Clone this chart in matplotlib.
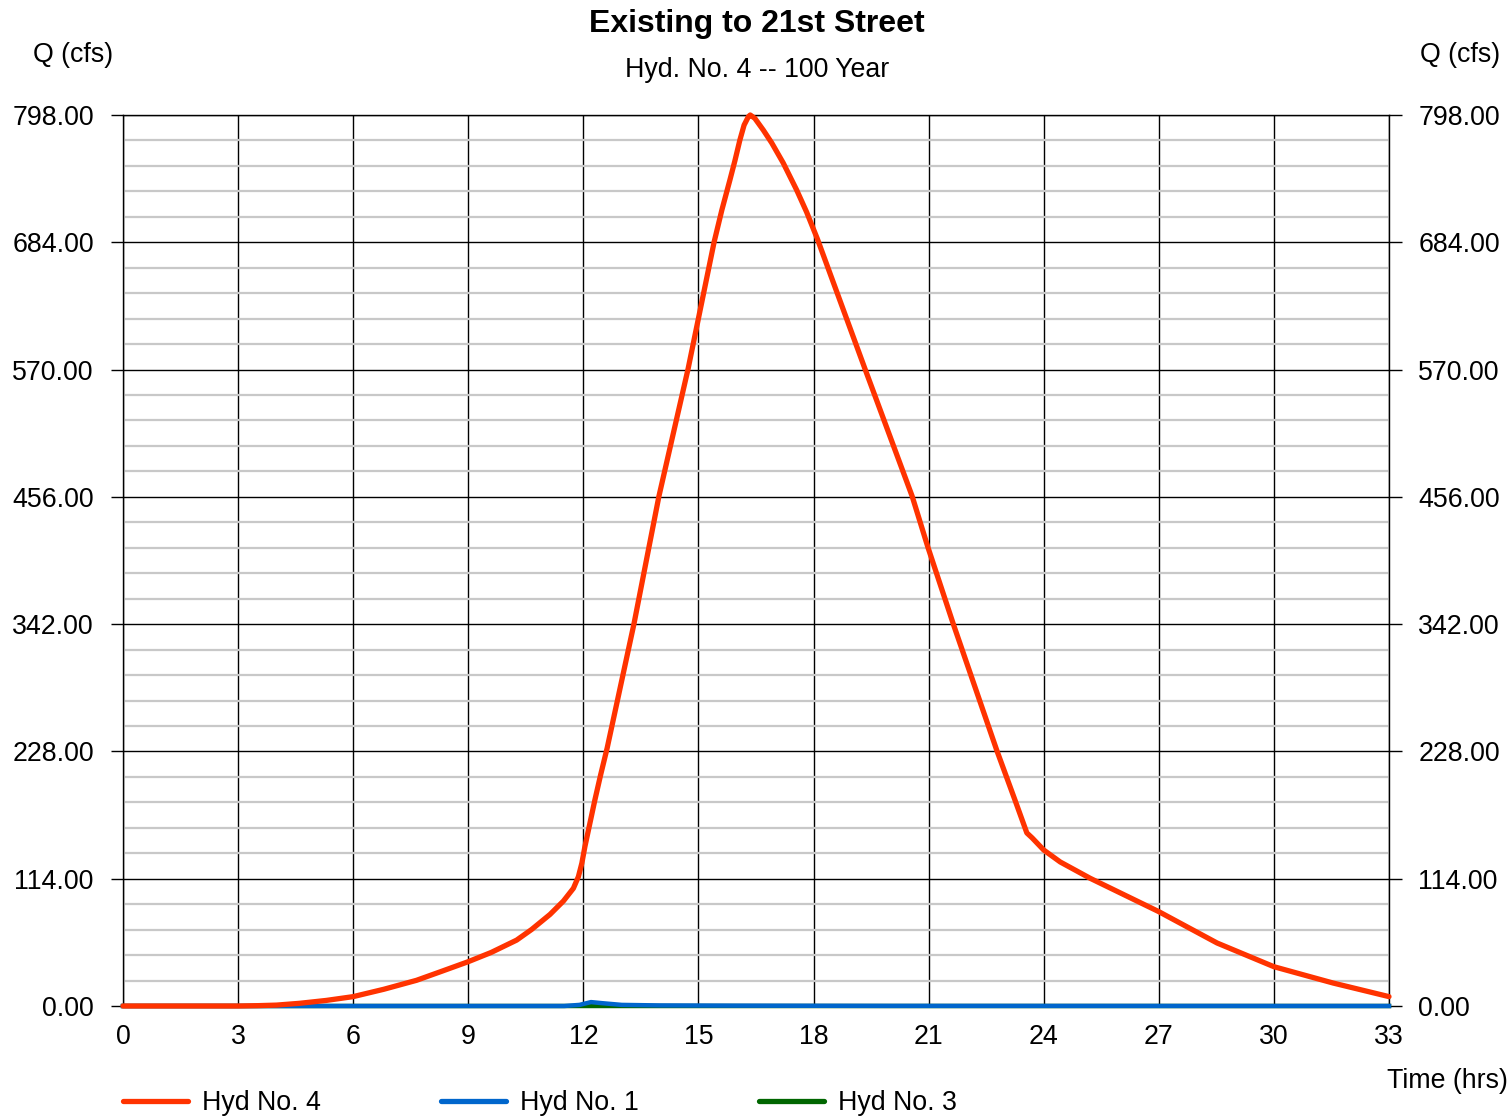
import matplotlib
matplotlib.use("Agg")
import matplotlib.pyplot as plt
from matplotlib.lines import Line2D
from matplotlib.ticker import MultipleLocator, FormatStrFormatter

plt.rcParams['font.family'] = ['Liberation Sans', 'DejaVu Sans']

# ---- data ----
hyd4_t = [0, 1, 2, 3, 3.5, 4, 4.6, 5.3, 6.0, 6.8, 7.65, 8.3, 9.0, 9.6, 10.26, 10.65,
          11.13, 11.48, 11.74, 11.87, 11.96, 12.04, 12.17, 12.3, 12.45, 12.62, 13.32,
          13.71, 13.97, 14.73, 15.41, 15.61, 15.82, 15.95, 16.08, 16.19, 16.30, 16.35,
          16.47, 16.69, 16.91, 17.21, 17.56, 17.82, 18.1, 19.34, 20.57, 20.98, 21.64,
          22.78, 23.25, 23.56, 23.7, 24.0, 24.43, 25.21, 27.0, 28.52, 30.0, 31.54, 33.0]
hyd4_q = [0, 0, 0, 0, 0.3, 0.8, 2.4, 5.0, 8.4, 15, 23, 31, 39.7, 48, 59, 68.5,
          82, 94, 105.4, 115.8, 127.8, 142.7, 163.6, 184.5, 207, 231, 342.4,
          411, 456.6, 570.7, 684.5, 712.9, 739.8, 757, 775.6, 789, 796.4, 798,
          795, 784.5, 773, 755, 730.8, 711, 687, 570.7, 456.6, 411, 342.4,
          228.6, 184.5, 155, 150.5, 139.7, 129, 114.4, 84.5, 56.4, 35.2, 20.6, 8.4]

hyd1_t = [0, 11.5, 11.9, 12.2, 12.5, 13.0, 14.0, 16.0, 20.0, 33.0]
hyd1_q = [0, 0, 1.0, 3.5, 2.5, 1.0, 0.5, 0.3, 0.1, 0]

hyd3_t = [0, 33]
hyd3_q = [0, 0]

x_ticks = [0, 3, 6, 9, 12, 15, 18, 21, 24, 27, 30, 33]
y_ticks = [0, 114, 228, 342, 456, 570, 684, 798]
y_minor_step = 22.8

title = "Existing to 21st Street"
subtitle = "Hyd. No. 4 -- 100 Year"
labels = ["Hyd No. 4", "Hyd No. 1", "Hyd No. 3"]
colors = ["#FF3300", "#0066CC", "#006600"]

FS = 19.3

# ---- figure ----
W, H = 1510, 1116
fig = plt.figure(figsize=(W / 100, H / 100), dpi=100)
ax = fig.add_axes([123 / W, (H - 1006) / H, (1389 - 123) / W, (1006 - 115) / H])

ax.set_xlim(0, 33)
ax.set_ylim(0, 798)

ax.yaxis.set_minor_locator(MultipleLocator(y_minor_step))
ax.set_yticks(y_ticks)
ax.set_xticks(x_ticks)
ax.yaxis.set_major_formatter(FormatStrFormatter("%.2f"))
ax.grid(which='minor', axis='y', color='#c8c8c8', linewidth=1.6, zorder=0)
ax.grid(which='major', axis='both', color='black', linewidth=1.0, zorder=1)
ax.set_axisbelow(True)

for s in ax.spines.values():
    s.set_color('black')
    s.set_linewidth(1.0)

ax.tick_params(axis='y', which='major', left=True, right=True, labelleft=True,
               labelright=True, length=9, width=1.0, labelsize=FS, pad=12)
ax.tick_params(axis='y', which='minor', left=False, right=False)
ax.tick_params(axis='x', which='major', length=0, labelsize=FS, pad=13)

l3, = ax.plot(hyd3_t, hyd3_q, color=colors[2], lw=3.2, clip_on=False, zorder=3)
l1, = ax.plot(hyd1_t, hyd1_q, color=colors[1], lw=3.2, clip_on=False, zorder=4)
l4, = ax.plot(hyd4_t, hyd4_q, color=colors[0], lw=3.8, clip_on=False, zorder=5,
              solid_joinstyle='round', solid_capstyle='round')

fig.text(757 / W, 1 - 24 / H, title, ha='center', va='center', fontsize=23,
         fontweight='bold')
fig.text(757 / W, 1 - 70 / H, subtitle, ha='center', va='center', fontsize=FS)
fig.text(33 / W, 1 - 55 / H, "Q (cfs)", ha='left', va='center', fontsize=FS)
fig.text(1420 / W, 1 - 55 / H, "Q (cfs)", ha='left', va='center', fontsize=FS)
fig.text(1508 / W, 1 - 1081 / H, "Time (hrs)", ha='right', va='center', fontsize=FS)

handles = [Line2D([], [], color=c, lw=3.8, solid_capstyle='round') for c in colors]
fig.legend(handles, labels, loc='center left', bbox_to_anchor=(123 / W, 13 / H),
           ncol=3, frameon=False, fontsize=FS, handlelength=2.43,
           handletextpad=0.52, columnspacing=4.48, borderpad=0, borderaxespad=0)

fig.savefig("out.png", dpi=100)
